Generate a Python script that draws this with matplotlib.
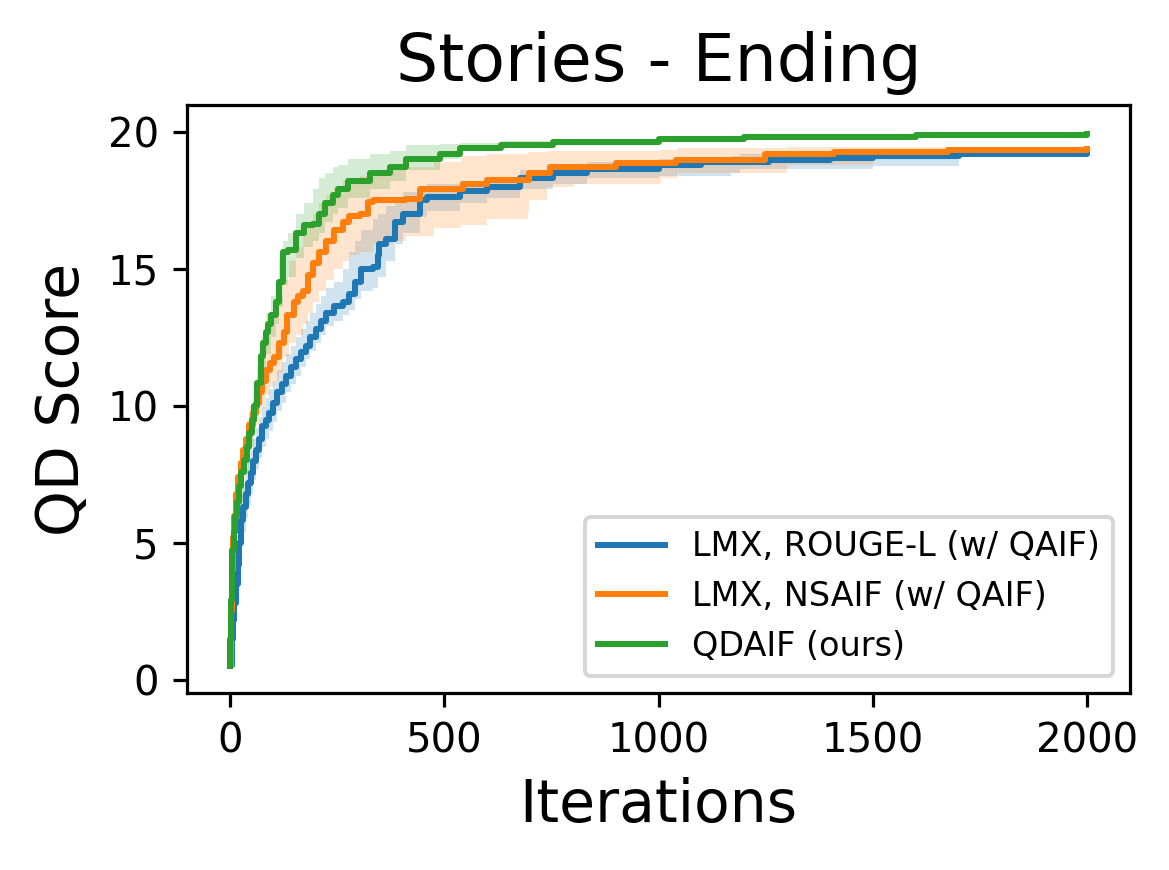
import matplotlib
matplotlib.use("Agg")
import matplotlib.pyplot as plt

# mean curves (iteration, QD score)
rouge_x = [0, 4, 7, 10, 14, 18, 22, 26, 31, 37, 43, 49, 55, 61, 68, 76, 84, 92, 100, 111,
           121, 131, 142, 154, 165, 177, 188, 200, 212, 224, 244, 264, 279, 291, 307, 334, 345,
           349, 365, 385, 404, 443, 459, 537, 599, 677, 755, 833, 1000, 1100, 1258, 1400, 1500,
           1700, 2000]
rouge_y = [0.55, 1.5, 2.2, 2.8, 3.5, 4.2, 5.0, 5.85, 6.3, 6.8, 7.2, 7.55, 8.0, 8.4, 8.8, 9.25,
           9.5, 9.75, 10.1, 10.5, 10.8, 11.1, 11.4, 11.7, 11.95, 12.2, 12.5, 12.8, 13.1, 13.4,
           13.66, 13.8, 14.08, 14.5, 14.98, 15.05, 15.5, 15.9, 16.1, 16.7, 17.0, 17.5, 17.63,
           17.84, 18.0, 18.3, 18.5, 18.65, 18.78, 18.88, 18.97, 19.05, 19.1, 19.2, 19.22]

nsaif_x = [0, 2, 4, 7, 10, 14, 20, 26, 31, 37, 45, 53, 60, 68, 76, 84, 93, 103, 115, 127, 134,
           150, 160, 170, 182, 193, 209, 225, 244, 264, 279, 303, 322, 334, 412, 443, 544, 600,
           698, 746, 900, 1040, 1248, 1409, 1675, 2000]
nsaif_y = [0.55, 2.5, 4.0, 5.2, 6.0, 6.8, 7.4, 7.9, 8.4, 8.8, 9.3, 9.75, 10.1, 10.5, 10.9, 11.3,
           11.55, 11.8, 12.3, 12.7, 13.3, 13.8, 14.0, 14.2, 14.78, 15.2, 15.6, 16.03, 16.4, 16.7,
           16.93, 17.0, 17.42, 17.5, 17.53, 17.9, 18.1, 18.25, 18.5, 18.7, 18.85, 18.97, 19.18,
           19.25, 19.35, 19.36]

qdaif_x = [0, 1, 2, 4, 6, 9, 12, 17, 22, 27, 33, 39, 45, 51, 57, 64, 72, 78, 84, 90, 96, 107,
           115, 123, 135, 154, 174, 193, 209, 221, 240, 252, 275, 326, 373, 412, 490, 537, 632,
           755, 1000, 1200, 1600, 2000]
qdaif_y = [0.5, 1.5, 2.9, 4.0, 4.75, 5.4, 5.97, 6.5, 7.07, 7.6, 8.04, 8.5, 9.02, 9.5, 10.0,
           10.85, 11.82, 12.3, 12.68, 13.0, 13.3, 13.8, 14.5, 15.6, 15.7, 16.3, 16.6, 16.65, 17.0,
           17.4, 17.7, 17.9, 18.2, 18.5, 18.7, 19.0, 19.2, 19.4, 19.5, 19.64, 19.75, 19.8,
           19.88, 19.9]

# spread bands (iteration, low, high)
rouge_bx = [0, 4, 7, 10, 14, 18, 22, 26, 31, 37, 43, 49, 55, 61, 68, 76, 84, 92, 100, 111,
            121, 131, 142, 154, 165, 177, 188, 200, 212, 224, 244, 264, 279, 291, 307, 334, 345,
            365, 385, 404, 443, 459, 537, 599, 677, 755, 833, 1000, 1170, 1190, 1500, 1700, 2000]
rouge_lo = [0.5, 1.0, 1.6, 2.1, 2.8, 3.4, 4.1, 4.9, 5.4, 5.9, 6.4, 6.8, 7.3, 7.7, 8.1, 8.5, 8.8,
            9.1, 9.4, 9.8, 10.1, 10.5, 10.8, 11.1, 11.4, 11.7, 12.0, 12.3, 12.6, 12.9, 13.1, 13.3,
            13.5, 13.9, 14.2, 14.3, 14.7, 15.3, 15.9, 16.3, 16.9, 17.1, 17.4, 17.6, 17.9, 18.1,
            18.3, 18.4, 18.5, 18.65, 18.75, 19.1, 19.15]
rouge_hi = [0.6, 2.0, 2.9, 3.6, 4.3, 5.0, 5.9, 6.8, 7.2, 7.7, 8.1, 8.4, 8.8, 9.2, 9.6, 10.0,
            10.3, 10.6, 10.9, 11.3, 11.6, 11.9, 12.2, 12.5, 12.8, 13.1, 13.4, 13.7, 14.0, 14.3,
            14.5, 15.0, 15.6, 16.0, 16.4, 16.8, 17.0, 17.3, 17.6, 17.8, 18.0, 18.1, 18.2, 18.3,
            18.6, 18.8, 18.9, 19.0, 19.1, 19.2, 19.25, 19.3, 19.3]

nsaif_bx = [0, 2, 4, 7, 10, 14, 20, 26, 37, 45, 53, 60, 68, 76, 84, 93, 103, 115, 123, 139,
            154, 170, 182, 193, 209, 225, 244, 264, 279, 303, 334, 380, 412, 476, 540, 601, 695,
            697, 741, 802, 1005, 1044, 1300, 1500, 1700, 2000]
nsaif_lo = [0.5, 2.0, 3.4, 4.6, 5.4, 6.2, 6.8, 7.3, 8.1, 8.5, 9.0, 9.3, 9.7, 10.0, 10.4, 10.7,
            10.9, 11.2, 11.8, 12.3, 12.6, 13.0, 13.4, 13.8, 14.2, 14.6, 15.0, 15.3, 15.5, 15.6,
            15.9, 16.0, 16.2, 16.5, 16.6, 16.8, 17.1, 17.5, 18.0, 18.1, 18.3, 18.5, 18.8, 19.0,
            19.25, 19.3]
nsaif_hi = [0.6, 3.0, 4.6, 5.8, 6.6, 7.4, 8.0, 8.5, 9.5, 10.0, 10.5, 11.0, 11.5, 12.0, 12.5,
            13.0, 13.4, 14.0, 14.6, 15.3, 15.8, 16.3, 16.7, 17.0, 17.4, 17.7, 18.0, 18.2, 18.3,
            18.4, 18.5, 18.6, 18.7, 18.9, 19.1, 19.2, 19.25, 19.25, 19.3, 19.3, 19.35, 19.4,
            19.45, 19.45, 19.45, 19.45]

qdaif_bx = [0, 2, 6, 12, 22, 33, 45, 57, 64, 72, 84, 96, 107, 115, 123, 135, 154, 174, 193,
            209, 221, 240, 252, 275, 326, 373, 412, 490, 537, 632, 755, 1000, 1200, 1600, 2000]
qdaif_lo = [0.5, 2.4, 4.2, 5.4, 6.5, 7.5, 8.5, 9.4, 10.2, 11.1, 11.9, 12.5, 13.0, 13.6, 14.4,
            14.7, 15.4, 15.8, 16.0, 16.3, 16.7, 17.0, 17.2, 17.6, 17.9, 18.2, 18.6, 19.0, 19.3,
            19.4, 19.55, 19.68, 19.74, 19.83, 19.85]
qdaif_hi = [0.6, 3.4, 5.3, 6.6, 7.7, 8.7, 9.7, 10.7, 11.5, 12.5, 13.4, 14.0, 14.6, 15.4, 16.0,
            16.3, 17.0, 17.4, 17.9, 18.3, 18.5, 18.7, 18.8, 19.0, 19.2, 19.3, 19.5, 19.55, 19.6,
            19.65, 19.72, 19.8, 19.86, 19.95, 20.0]

labels = ["LMX, ROUGE-L (w/ QAIF)", "LMX, NSAIF (w/ QAIF)", "QDAIF (ours)"]
colors = ["tab:blue", "tab:orange", "tab:green"]

series = [
    (rouge_x, rouge_y, rouge_bx, rouge_lo, rouge_hi),
    (nsaif_x, nsaif_y, nsaif_bx, nsaif_lo, nsaif_hi),
    (qdaif_x, qdaif_y, qdaif_bx, qdaif_lo, qdaif_hi),
]

fig = plt.figure(figsize=(1169 / 290, 870 / 290), dpi=290)
ax = fig.add_axes([187 / 1169, 1 - 693 / 870, (1130 - 187) / 1169, (693 - 105) / 870])

for (x, y, bx, lo, hi), lab, c in zip(series, labels, colors):
    ax.fill_between(bx, lo, hi, step="post", color=c, alpha=0.2, linewidth=0)
    ax.plot(x, y, drawstyle="steps-post", color=c, lw=1.5, label=lab)

ax.set_title("Stories - Ending", fontsize=16.5)
ax.set_xlabel("Iterations", fontsize=14.5)
ax.set_ylabel("QD Score", fontsize=14.5)
ax.tick_params(labelsize=10)
ax.set_xticks([0, 500, 1000, 1500, 2000])
ax.set_yticks([0, 5, 10, 15, 20])
ax.legend(loc="lower right", fontsize="small")

fig.savefig("out.png", dpi=290)
